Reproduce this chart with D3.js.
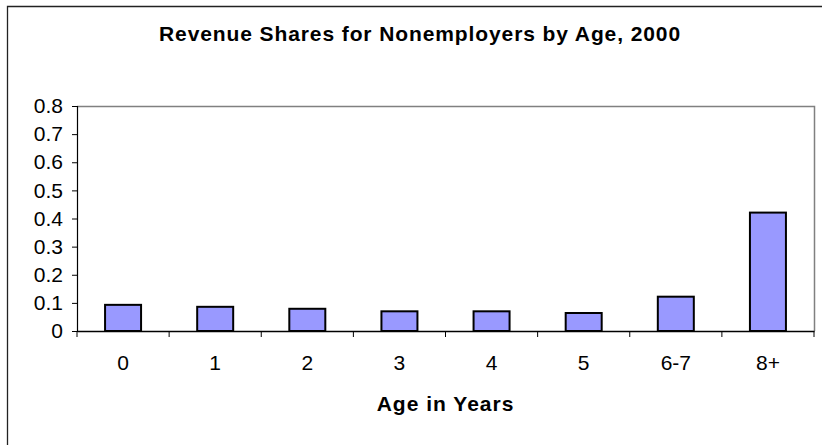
<!DOCTYPE html>
<html>
<head>
<meta charset="utf-8">
<script src="https://cdn.jsdelivr.net/npm/d3@7"></script>
<style>
  body { margin: 0; background: #fff; }
  svg text { font-family: Arial, "Liberation Sans", sans-serif; fill: #000; }
</style>
</head>
<body>
<div id="chart"></div>
<script>
// Revenue shares by firm age, 2000
const ageGroups = ['0', '1', '2', '3', '4', '5', '6-7', '8+'];
const revenueShares = [0.093, 0.086, 0.079, 0.070, 0.070, 0.064, 0.122, 0.421];
const yTicks = [0, 0.1, 0.2, 0.3, 0.4, 0.5, 0.6, 0.7, 0.8];

const W = 822, H = 445;
const plot = { left: 77, right: 814, top: 106, bottom: 331 };

const svg = d3.select('#chart')
    .append('svg')
    .attr('width', W)
    .attr('height', H);

svg.append('rect').attr('width', W).attr('height', H).attr('fill', '#fff');

// outer chart frame (only left and top visible)
svg.append('path')
    .attr('d', `M7.5,${H} V6.5 H${W}`)
    .attr('fill', 'none')
    .attr('stroke', '#222')
    .attr('stroke-width', 1.3);

const x = d3.scaleBand()
    .domain(ageGroups)
    .range([plot.left, plot.right])
    .padding(0);

const y = d3.scaleLinear()
    .domain([0, 0.8])
    .range([plot.bottom, plot.top]);

// plot area border (top and right, gray)
svg.append('path')
    .attr('d', `M${plot.left},${plot.top + 0.5} H${plot.right + 0.5} V${plot.bottom}`)
    .attr('fill', 'none')
    .attr('stroke', '#808080')
    .attr('stroke-width', 1.5);

// Bars
const barWidth = 36;
svg.selectAll('.bar')
    .data(revenueShares)
    .enter()
    .append('rect')
    .attr('class', 'bar')
    .attr('x', (d, i) => x(ageGroups[i]) + x.bandwidth() / 2 - barWidth / 2)
    .attr('y', d => y(d))
    .attr('width', barWidth)
    .attr('height', d => y(0) - y(d))
    .attr('fill', '#9999ff')
    .attr('stroke', '#000')
    .attr('stroke-width', 2);

// Y axis
const yAxis = svg.append('g')
    .attr('transform', `translate(${plot.left},0)`)
    .call(d3.axisLeft(y)
        .tickValues(yTicks)
        .tickSize(5)
        .tickPadding(9)
        .tickFormat(d => d === 0 ? '0' : d3.format('.1f')(d)));
yAxis.select('.domain').attr('stroke', '#000').attr('stroke-width', 1.2);
yAxis.selectAll('.tick line').attr('stroke', '#000');
yAxis.selectAll('text').style('font-size', '21px');

// X axis: labels at centers, ticks at category boundaries
const xAxis = svg.append('g')
    .attr('transform', `translate(0,${plot.bottom})`)
    .call(d3.axisBottom(x).tickSize(0).tickPadding(24));
xAxis.select('.domain').attr('stroke', '#000').attr('stroke-width', 1.5);
xAxis.selectAll('text').style('font-size', '21px');

const boundaries = ageGroups.map(c => x(c)).concat([plot.right]);
svg.selectAll('.xtick')
    .data(boundaries)
    .enter()
    .append('line')
    .attr('class', 'xtick')
    .attr('x1', d => d)
    .attr('x2', d => d)
    .attr('y1', plot.bottom)
    .attr('y2', plot.bottom + 6)
    .attr('stroke', '#000')
    .attr('stroke-width', 1);

// Title
svg.append('text')
    .attr('x', 420)
    .attr('y', 41)
    .attr('text-anchor', 'middle')
    .style('font-size', '21px')
    .style('font-weight', 'bold')
    .style('letter-spacing', '0.9px')
    .text('Revenue Shares for Nonemployers by Age, 2000');

// X axis title
svg.append('text')
    .attr('x', (plot.left + plot.right) / 2)
    .attr('y', 411)
    .attr('text-anchor', 'middle')
    .style('font-size', '21px')
    .style('font-weight', 'bold')
    .style('letter-spacing', '1px')
    .text('Age in Years');
</script>
</body>
</html>
